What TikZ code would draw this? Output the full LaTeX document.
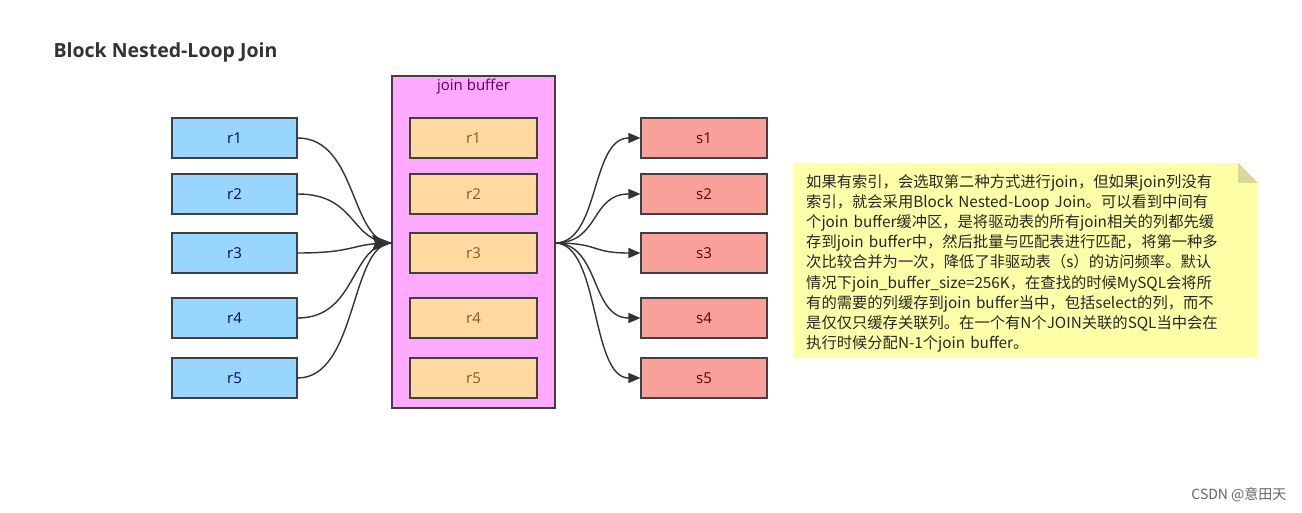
\documentclass[tikz,border=0pt]{standalone}
\usepackage{fontspec}
\setmainfont{Open Sans}
\newfontfamily\cjk{Noto Sans CJK SC}
\usetikzlibrary{arrows.meta,calc}
\definecolor{lb}{HTML}{99D6FF}
\definecolor{pk}{HTML}{FFAAFF}
\definecolor{og}{HTML}{FFD9A0}
\definecolor{rd}{HTML}{F8A09A}
\definecolor{nt}{HTML}{FFFFA8}
\begin{document}
\begin{tikzpicture}[x=1pt,y=-1pt,
 box/.style={draw=black!75,line width=1.2pt,minimum width=125pt,minimum height=40pt,inner sep=0,font=\fontsize{15}{17}\selectfont},
 rbox/.style={box,fill=lb,text=blue!50!black},
 obox/.style={box,fill=og,minimum width=127pt,text=brown!70!black},
 sbox/.style={box,fill=rd,minimum width=126pt,text=red!40!black},
 con/.style={draw=black!80,line width=1.4pt},
 arr/.style={con,-{Triangle[length=12pt,width=10pt]}}]
\useasboundingbox (0,0) rectangle (1302,513);
\fill[white] (0,0) rectangle (1302,513);
\node[anchor=west,font=\bfseries\fontsize{19.5}{22}\selectfont,text=black!80] (title) at (50,52) {Block Nested-Loop Join};
\node[draw=black!75,line width=1.2pt,fill=pk,minimum width=163pt,minimum height=332pt,inner sep=0] (buf) at (473.5,242) {};
\node[anchor=north,text=violet!70!black,font=\fontsize{15}{17}\selectfont] (bl) at (473.5,75) {join buffer};
\foreach \i/\y in {1/138,2/194,3/253,4/318,5/378}{
 \node[rbox] (r\i) at (234.5,\y) {r\i};
 \node[obox] (b\i) at (473.5,\y) {r\i};
 \node[sbox] (s\i) at (704,\y) {s\i};
}
\coordinate (in) at (392,243);
\coordinate (out) at (555,243);
\foreach \i in {1,2,3,4,5}{
 \draw[con] (r\i.east) .. controls +(60,0) and (350,243) .. (in);
 \draw[arr] (out) .. controls (600,243) and ($(s\i.west)+(-50,0)$) .. (s\i.west);
}
\fill[black!80] (392,243) -- (372,235) -- (375,243) -- (372,251) -- cycle;
\node[draw=none,fill=nt,minimum width=465pt,minimum height=195pt] (note) at (1025.5,260.5) {};
\fill[white] (1258,163) -- (1238,163) -- (1258,183) -- cycle;
\fill[nt!70!gray] (1238,163) -- (1238,183) -- (1258,183) -- cycle;
\node[anchor=north west,text width=450pt,align=left,inner sep=0,font=\cjk\fontsize{15.3}{20.2}\selectfont,text=black!85] (nt) at (806,174) {如果有索引，会选取第二种方式进行join，但如果join列没有\\索引，就会采用Block Nested-Loop Join。可以看到中间有\\个join buffer缓冲区，是将驱动表的所有join相关的列都先缓\\存到join buffer中，然后批量与匹配表进行匹配，将第一种多\\次比较合并为一次，降低了非驱动表（s）的访问频率。默认\\情况下join\_buffer\_size=256K，在查找的时候MySQL会将所\\有的需要的列缓存到join buffer当中，包括select的列，而不\\是仅仅只缓存关联列。在一个有N个JOIN关联的SQL当中会在\\执行时候分配N-1个join buffer。};
\node[anchor=east,text=black!60,font=\cjk\fontsize{14}{16}\selectfont] (wm) at (1290,495) {CSDN @意田天};
\end{tikzpicture}
\end{document}
